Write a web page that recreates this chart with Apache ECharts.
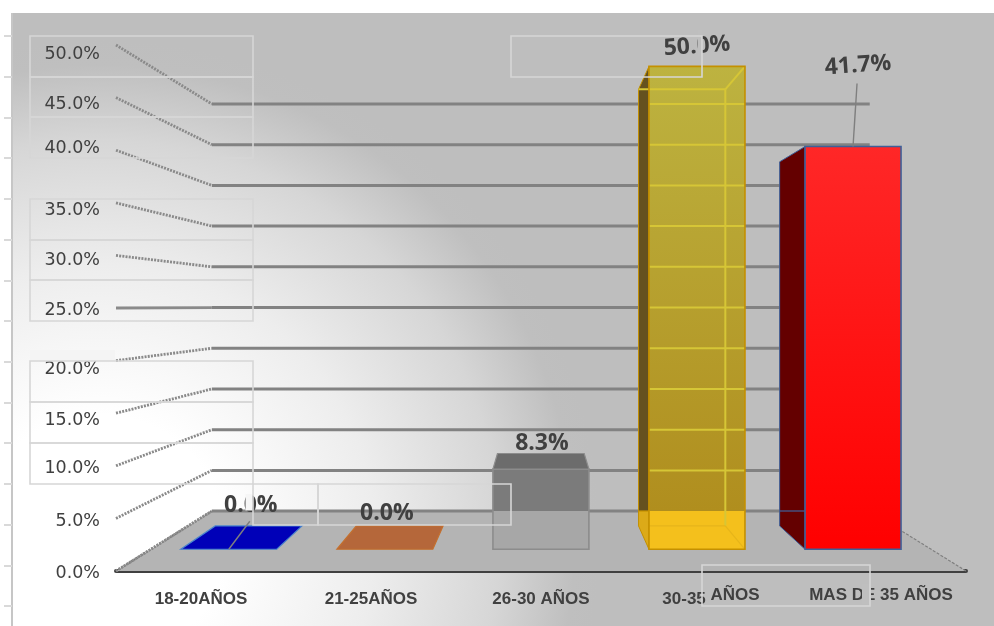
<!DOCTYPE html>
<html>
<head>
<meta charset="utf-8">
<style>html,body{margin:0;padding:0;background:#fff}#chart{width:994px;height:626px}</style>
<script src="https://cdn.jsdelivr.net/npm/echarts@6/dist/echarts.min.js"></script>
</head>
<body>
<div id="chart"></div>
<script>
// Age bands and their share of respondents
const categories = ['18-20AÑOS', '21-25AÑOS', '26-30 AÑOS', '30-35 AÑOS', 'MAS DE 35 AÑOS'];
const shares = [0, 0, 8.3, 50, 41.7];
const axisTicks = [0, 5, 10, 15, 20, 25, 30, 35, 40, 45, 50];

// Small vertical shifts of the tick labels, in pixels (positive = up)
const tickLift = { 0: -2, 5: -3, 10: -3, 15: -7, 20: -9, 25: -2, 30: -5, 35: -8, 40: 2, 45: -7, 50: -9 };

// Words of the category labels that sit a little higher than the rest
const raisedWords = { 3: 'AÑOS', 4: 'MAS DE 35 AÑOS' };

// Value label offsets from the top centre of each bar, and leader line starts
const labelOffsets = [[22, -44], [2, -36], [1, -26], [0, -20], [5, -81]];
const labelTilt = [0, 0, 0, 0.07, 0.07];
const leaderStarts = [[21, -28], null, null, null, [4, -63]];

const barSkins = [
  { top: '#0000b8', edge: '#4a84cc' },
  { top: '#b5673a', edge: '#c4702e' },
  { front: ['#7b7b7b', '#7b7b7b'], lower: '#a7a7a7', side: '#777777', sideLower: '#a0a0a0', top: '#6c6c6c', edge: '#8c8c8c' },
  { front: ['#bdb340', '#b08e1e'], lower: '#f4c01c', side: '#65511f', sideLower: '#dcaa18', top: null, edge: '#c49000', inner: '#d6c636' },
  { front: ['#ff2727', '#ff0000'], lower: null, side: '#640000', sideLower: null, top: null, edge: '#3e6099' }
];

// Perspective: every plane recedes toward one vanishing point
const VANISH = [540, 306];
const DEPTH = { wall: 0.774, barFront: 0.918, barBack: 0.83 };
const BAR_RATIO = 0.615;
const toDepth = (p, k) => [VANISH[0] + (p[0] - VANISH[0]) * k, VANISH[1] + (p[1] - VANISH[1]) * k];
const asPoints = (...pts) => pts;
const poly = (points, fill, stroke, lineWidth) => ({
  type: 'polygon', shape: { points }, style: { fill: fill || 'none', stroke: stroke || 'none', lineWidth: lineWidth || 0 }
});
const seg = (a, b, stroke, lineWidth, lineDash) => ({
  type: 'line', shape: { x1: a[0], y1: a[1], x2: b[0], y2: b[1] },
  style: { stroke, lineWidth, lineDash: lineDash || null, fill: 'none' }
});
const vGrad = (c) => ({ type: 'linear', x: 0, y: 0, x2: 0, y2: 1, colorStops: [{ offset: 0, color: c[0] }, { offset: 1, color: c[1] }] });

// Back wall rules and the receding lines that join them to the axis
function renderWall(params, api) {
  const v = api.value(0);
  const g = params.coordSys;
  const a = api.coord([0, v]);
  const start = [g.x, a[1]];
  const back = toDepth(start, DEPTH.wall);
  const end = toDepth([g.x + g.width, a[1]], DEPTH.wall);
  return { type: 'group', children: [
    seg(start, back, '#8a8a8a', 2.8, v === 25 ? null : [2, 1.2]),
    seg(back, end, '#828282', 3)
  ]};
}

function renderFloor(params) {
  const g = params.coordSys;
  const y = g.y + g.height;
  const fl = [g.x, y], fr = [g.x + g.width, y];
  const bl = toDepth(fl, DEPTH.wall), br = toDepth(fr, DEPTH.wall);
  return { type: 'group', children: [
    poly(asPoints(fl, fr, br, bl), '#b4b4b4'),
    seg(fl, bl, '#777777', 2.2, [1.5, 1.5]),
    seg(fr, br, '#808080', 1.2, [3, 1.5])
  ]};
}

function renderBar(params, api) {
  const idx = params.dataIndex;
  const skin = barSkins[idx];
  const c = api.coord([api.value(0), api.value(1)]);
  const base = api.coord([api.value(0), 0]);
  const half = api.size([1, 0])[0] * BAR_RATIO / 2;
  const front = (x, y) => toDepth([x, y], DEPTH.barFront);
  const rear = (x, y) => toDepth([x, y], DEPTH.barBack);
  const fTL = front(c[0] - half, c[1]), fTR = front(c[0] + half, c[1]);
  const fBL = front(c[0] - half, base[1]), fBR = front(c[0] + half, base[1]);
  const bTL = rear(c[0] - half, c[1]), bTR = rear(c[0] + half, c[1]);
  const bBL = rear(c[0] - half, base[1]), bBR = rear(c[0] + half, base[1]);
  const wallFloorY = toDepth(base, DEPTH.wall)[1];
  const kids = [];
  const hasHeight = fTL[1] < fBL[1] - 1;

  if (hasHeight) {
    // Left side face, darker above the floor line
    if (bTL[0] < fTL[0]) {
      kids.push(poly(asPoints(bTL, fTL, [fTL[0], wallFloorY], [bTL[0], wallFloorY]), skin.side, skin.edge, 1));
      kids.push(poly(asPoints([bTL[0], wallFloorY], [fTL[0], wallFloorY], fBL, bBL), skin.sideLower || skin.side, skin.edge, 1));
    }
    // Front face, seen through down to the floor
    const upperBottom = skin.lower ? wallFloorY : fBL[1];
    kids.push({ type: 'rect', shape: { x: fTL[0], y: fTL[1], width: fTR[0] - fTL[0], height: upperBottom - fTL[1] },
      style: { fill: vGrad(skin.front) } });
    if (skin.lower) {
      kids.push({ type: 'rect', shape: { x: fTL[0], y: wallFloorY, width: fTR[0] - fTL[0], height: fBL[1] - wallFloorY },
        style: { fill: skin.lower } });
    }
    if (skin.inner) {
      // Wall rules and rear edges glow through the glassy face
      axisTicks.forEach((t) => {
        const ruleY = toDepth(api.coord([0, t]), DEPTH.wall)[1];
        if (t > 0) kids.push(seg([fTL[0], ruleY], [fTR[0], ruleY], skin.inner, 2));
      });
      kids.push(seg(bTL, bTR, skin.inner, 2), seg(bTR, bBR, skin.inner, 2), seg(bTR, fTR, skin.inner, 2), seg(bBR, fBR, '#e6b41a', 1.2));
      kids.push(seg([fTL[0], bBL[1]], bBR, '#e6b41a', 1.2));
    }
    kids.push({ type: 'rect', shape: { x: fTL[0], y: fTL[1], width: fTR[0] - fTL[0], height: fBL[1] - fTL[1] },
      style: { fill: 'none', stroke: skin.edge, lineWidth: 1.6 } });
  }
  if (bTL[1] < fTL[1]) {
    kids.push(poly(asPoints(bTL, bTR, fTR, fTL), skin.top, skin.edge, 1.2));
  }
  return { type: 'group', children: kids };
}

function renderValueLabel(params, api) {
  const idx = params.dataIndex;
  const c = api.coord([api.value(0), api.value(1)]);
  const top = toDepth(c, DEPTH.barFront);
  const off = labelOffsets[idx];
  const kids = [];
  const lead = leaderStarts[idx];
  if (lead) kids.push(seg([top[0] + lead[0], top[1] + lead[1]], top, '#7f7f7f', 1.4));
  kids.push({ type: 'text', x: top[0] + off[0], y: top[1] + off[1], rotation: labelTilt[idx],
    style: { text: api.value(1).toFixed(1) + '%', fill: '#404040', font: "bold 23px 'Open Sans'", align: 'center', verticalAlign: 'middle' } });
  return { type: 'group', children: kids };
}

// Pale ruled cells laid over the plot
const cells = [
  [30, 36, 223, 41], [30, 77, 223, 40], [30, 117, 223, 41],
  [30, 199, 223, 41], [30, 240, 223, 40], [30, 280, 223, 41],
  [30, 361, 223, 41], [30, 402, 223, 41], [30, 443, 223, 41],
  [253, 484, 65, 41], [318, 484, 193, 41], [511, 36, 191, 41], [702, 565, 168, 41]
];
// Strips beside the cell rules where lettering drops out
const strips = [
  [30, 350, 85, 11, '#f4f4f4'], [245.5, 494, 7, 16.5, '#f6f6f6'], [697.5, 30, 4.5, 26, '#bfbfbf'], [862, 584, 9, 20, '#bfbfbf']
];

const tickRich = {};
axisTicks.forEach((t) => {
  const lift = tickLift[t];
  tickRich['t' + t] = {
    fontFamily: 'DejaVu Sans', fontSize: 17.5, color: '#404040', lineHeight: 20,
    padding: lift >= 0 ? [0, 0, lift * 2, 0] : [-lift * 2, 0, 0, 0]
  };
});

const catFont = { color: '#404040', fontFamily: 'Liberation Sans', fontWeight: 'bold', fontSize: 17, lineHeight: 28 };

const chart = echarts.init(document.getElementById('chart'), null, { renderer: 'canvas' });
chart.setOption({
  animation: false,
  backgroundColor: '#ffffff',
  graphic: { elements: [
    { type: 'rect', z: -10, shape: { x: 12, y: 13, width: 982, height: 613 },
      style: { fill: { type: 'radial', x: 100, y: 540, r: 500, global: true, colorStops: [
        { offset: 0, color: '#ffffff' }, { offset: 0.25, color: '#ffffff' }, { offset: 0.55, color: '#ededed' }, { offset: 0.8, color: '#d6d6d6' }, { offset: 0.95, color: '#bfbfbf' }, { offset: 1, color: '#bebebe' }
      ] } } },
    { type: 'line', z: -9, shape: { x1: 12, y1: 13, x2: 12, y2: 626 }, style: { stroke: '#c6c6c6', lineWidth: 2 } },
    ...strips.map((s) => ({ type: 'rect', z: 40, shape: { x: s[0], y: s[1], width: s[2], height: s[3] }, style: { fill: s[4] } })),
    ...cells.map((b) => ({ type: 'rect', z: 50, shape: { x: b[0], y: b[1], width: b[2], height: b[3] },
      style: { fill: 'none', stroke: '#d6d6d6', lineWidth: 1.6 } }))
  ]},
  grid: [
    { left: 116, right: 28, top: 45, bottom: 55 },
    { left: 12, width: 1, top: 36, bottom: 20 }
  ],
  xAxis: [
    { type: 'category', gridIndex: 0, data: categories, axisTick: { show: false },
      axisLine: { lineStyle: { color: '#404040', width: 4 } },
      axisLabel: { margin: 14, interval: 0,
        rich: { low: catFont, high: { ...catFont, padding: [0, 0, 8, 0] } },
        formatter: (name, i) => {
          const up = raisedWords[i];
          if (!up) return '{low|' + name + '}';
          const rest = name.slice(0, name.length - up.length);
          return (rest ? '{low|' + rest + '}' : '') + '{high|' + up + '}';
        } } },
    { type: 'value', gridIndex: 1, show: false }
  ],
  yAxis: [
    { type: 'value', gridIndex: 0, min: 0, max: 50, interval: 5,
      splitLine: { show: false }, axisLine: { show: false }, axisTick: { show: false },
      axisLabel: { margin: 16, rich: tickRich, formatter: (v) => '{t' + v + '|' + v.toFixed(1) + '%}' } },
    // Outer scale: bare ticks along the panel's left edge
    { type: 'value', gridIndex: 1, min: 0, max: 14, interval: 1, position: 'left',
      splitLine: { show: false }, axisLabel: { show: false },
      axisLine: { show: false }, axisTick: { show: true, length: 8, lineStyle: { color: '#d9d9d9', width: 2 } } }
  ],
  series: [
    { type: 'custom', name: 'floor', xAxisIndex: 0, yAxisIndex: 0, z: 2, silent: true, data: [[0, 0]], renderItem: renderFloor },
    { type: 'custom', name: 'wall', xAxisIndex: 0, yAxisIndex: 0, z: 3, silent: true, encode: { y: 0 },
      data: axisTicks.map((t) => [t]), renderItem: renderWall },
    { type: 'custom', name: 'bars', xAxisIndex: 0, yAxisIndex: 0, z: 4, encode: { x: 0, y: 1 },
      data: shares.map((v, i) => [i, v]), renderItem: renderBar },
    { type: 'custom', name: 'labels', xAxisIndex: 0, yAxisIndex: 0, z: 5, encode: { x: 0, y: 1 },
      data: shares.map((v, i) => [i, v]), renderItem: renderValueLabel }
  ]
});
</script>
</body>
</html>
